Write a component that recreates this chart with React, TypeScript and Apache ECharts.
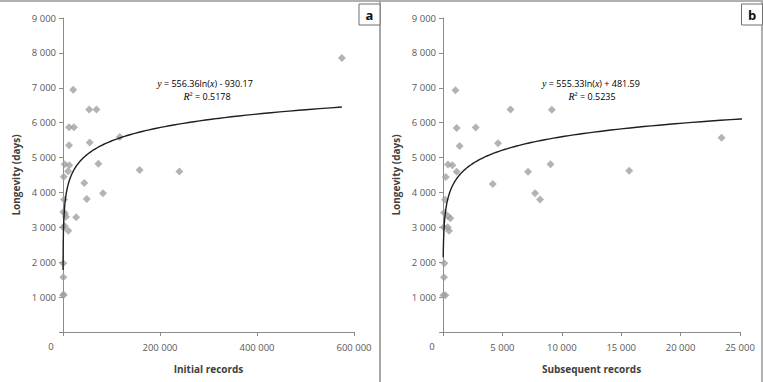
import React, { useEffect, useRef } from "react";
import * as echarts from "echarts";

// Panel a: Initial records vs Longevity (days)
const initialRecords = [575000, 21000, 54000, 69000, 12500, 22500, 117000, 55000, 12500, 3500, 13000, 73000, 10500, 158000, 240000, 1500, 44000, 82500, 49000, 2000, 27000, 6000, 800, 4000, 11000, 500, 3500, 600, 800, 300, 1500];
const longevityA = [7850, 6940, 6380, 6380, 5870, 5870, 5590, 5430, 5350, 4810, 4780, 4820, 4610, 4640, 4600, 4450, 4270, 3980, 3810, 3800, 3290, 3300, 3440, 3400, 2900, 3000, 3040, 1970, 1570, 1060, 1070];

// Panel b: Subsequent records vs Longevity (days)
const subsequentRecords = [1050, 5680, 9160, 1150, 2750, 23450, 1400, 4630, 420, 790, 1150, 9050, 15670, 7160, 230, 4190, 7750, 8170, 170, 85, 620, 420, 60, 400, 510, 115, 85, 30, 200];
const longevityB = [6930, 6380, 6370, 5850, 5860, 5570, 5330, 5410, 4800, 4780, 4590, 4810, 4620, 4590, 4440, 4240, 3980, 3800, 3790, 3420, 3260, 3320, 3000, 3000, 2900, 1970, 1570, 1050, 1050];

// Trendline coefficients (as printed on the chart): y = a ln(x) + b
const trendA = { a: 556.36, b: -930.17, xMin: 130, xMax: 575000 };
const trendB = { a: 555.33, b: 481.59, xMin: 20, xMax: 26000 };

function fmt(v: number): string {
  if (v === 0) return "";
  return String(Math.round(v)).replace(/\B(?=(\d{3})+(?!\d))/g, " ");
}

function trendPoints(t: { a: number; b: number; xMin: number; xMax: number }) {
  const pts: number[][] = [];
  const n = 200;
  const l0 = Math.log(t.xMin);
  const l1 = Math.log(t.xMax);
  for (let i = 0; i <= n; i++) {
    const x = Math.exp(l0 + ((l1 - l0) * i) / n);
    pts.push([x, t.a * Math.log(x) + t.b]);
  }
  return pts;
}

export default function App() {
  const ref = useRef<HTMLDivElement>(null);
  useEffect(() => {
    document.body.style.margin = "0";
    if (!ref.current) return;
    const chart = echarts.init(ref.current, undefined, { renderer: "svg" });
    const font = "Open Sans, Liberation Sans, sans-serif";
    const tickColor = "#595959";
    const axisColor = "#8c8c8c";
    const yAxisCommon = {
      type: "value" as const,
      min: 0,
      max: 9000,
      interval: 1000,
      splitLine: { show: false },
      axisLine: { show: true, lineStyle: { color: axisColor, width: 1 } },
      axisTick: { show: true, length: 4, lineStyle: { color: axisColor } },
      axisLabel: { color: tickColor, fontSize: 9.5, fontFamily: font, margin: 7, formatter: (v: number) => fmt(v) },
      name: "Longevity (days)",
      nameLocation: "middle" as const,
      nameGap: 42,
      nameTextStyle: { color: "#404040", fontSize: 10, fontWeight: "bold" as const, fontFamily: font },
    };
    const xAxisCommon = {
      type: "value" as const,
      min: 0,
      splitLine: { show: false },
      axisLine: { show: true, onZero: false, lineStyle: { color: axisColor, width: 1 } },
      axisTick: { show: true, length: 4, lineStyle: { color: axisColor } },
      axisLabel: { color: tickColor, fontSize: 9.5, fontFamily: font, margin: 10, formatter: (v: number) => fmt(v) },
      nameLocation: "middle" as const,
      nameGap: 32,
      nameTextStyle: { color: "#404040", fontSize: 10, fontWeight: "bold" as const, fontFamily: font },
    };
    const rich = {
      i: { fontStyle: "italic" as const, fontFamily: "Liberation Serif, serif", fontSize: 10, color: "#404040" },
      n: { fontFamily: font, fontSize: 9, color: "#404040" },
    };
    const scatterStyle = { color: "#a0a0a0" };
    const zeroStyle = { text: "0", fontSize: 9.5, fontFamily: font, fill: tickColor, align: "center", verticalAlign: "middle" };
    chart.setOption({
      animation: false,
      backgroundColor: "#ffffff",
      grid: [
        { left: 63, top: 18, width: 291, height: 314 },
        { left: 443, top: 18, width: 297, height: 314 },
      ],
      xAxis: [
        { ...xAxisCommon, gridIndex: 0, max: 600000, interval: 200000, name: "Initial records" },
        { ...xAxisCommon, gridIndex: 1, max: 25000, interval: 5000, name: "Subsequent records" },
      ],
      yAxis: [
        { ...yAxisCommon, gridIndex: 0 },
        { ...yAxisCommon, gridIndex: 1 },
      ],
      series: [
        {
          type: "scatter",
          xAxisIndex: 0,
          yAxisIndex: 0,
          symbol: "diamond",
          symbolSize: 8,
          itemStyle: scatterStyle,
          data: initialRecords.map((x, i) => [x, longevityA[i]]),
        },
        {
          type: "line",
          xAxisIndex: 0,
          yAxisIndex: 0,
          showSymbol: false,
          lineStyle: { color: "#1f1f1f", width: 1.4 },
          data: trendPoints(trendA),
          z: 3,
        },
        {
          type: "scatter",
          xAxisIndex: 1,
          yAxisIndex: 1,
          symbol: "diamond",
          symbolSize: 8,
          itemStyle: scatterStyle,
          data: subsequentRecords.map((x, i) => [x, longevityB[i]]),
        },
        {
          type: "line",
          xAxisIndex: 1,
          yAxisIndex: 1,
          showSymbol: false,
          clip: false,
          lineStyle: { color: "#1f1f1f", width: 1.4 },
          data: trendPoints(trendB),
          z: 3,
        },
      ],
      graphic: [
        { type: "line", shape: { x1: 0, y1: 1, x2: 763, y2: 1 }, style: { stroke: "#b0b0b0", lineWidth: 2 } },
        { type: "line", shape: { x1: 762, y1: 0, x2: 762, y2: 382 }, style: { stroke: "#b0b0b0", lineWidth: 2 } },
        { type: "line", shape: { x1: 380, y1: 0, x2: 380, y2: 382 }, style: { stroke: "#a8a8a8", lineWidth: 2 } },
        { type: "rect", shape: { x: 359, y: 4, width: 21, height: 21 }, style: { fill: "#fff", stroke: "#707070", lineWidth: 1 } },
        { type: "text", x: 369.5, y: 14.5, style: { text: "a", fontSize: 13, fontWeight: "bold", fontFamily: font, fill: "#111", align: "center", verticalAlign: "middle" } },
        { type: "rect", shape: { x: 741.5, y: 4, width: 21, height: 21 }, style: { fill: "#fff", stroke: "#707070", lineWidth: 1 } },
        { type: "text", x: 752, y: 14.5, style: { text: "b", fontSize: 13, fontWeight: "bold", fontFamily: font, fill: "#111", align: "center", verticalAlign: "middle" } },
        { type: "text", x: 51, y: 346, style: zeroStyle },
        { type: "text", x: 432, y: 346, style: zeroStyle },
        {
          type: "text", x: 205, y: 83,
          style: { text: "{i|y}{n| = 556.36ln(}{i|x}{n|) - 930.17}", rich, align: "center", verticalAlign: "middle" },
        },
        {
          type: "text", x: 207, y: 96.5,
          style: { text: "{i|R}{n|² = 0.5178}", rich, align: "center", verticalAlign: "middle" },
        },
        {
          type: "text", x: 591, y: 83,
          style: { text: "{i|y}{n| = 555.33ln(}{i|x}{n|) + 481.59}", rich, align: "center", verticalAlign: "middle" },
        },
        {
          type: "text", x: 592, y: 96.5,
          style: { text: "{i|R}{n|² = 0.5235}", rich, align: "center", verticalAlign: "middle" },
        },
      ],
    });
    return () => chart.dispose();
  }, []);
  return <div ref={ref} style={{ width: 763, height: 382 }} />;
}
